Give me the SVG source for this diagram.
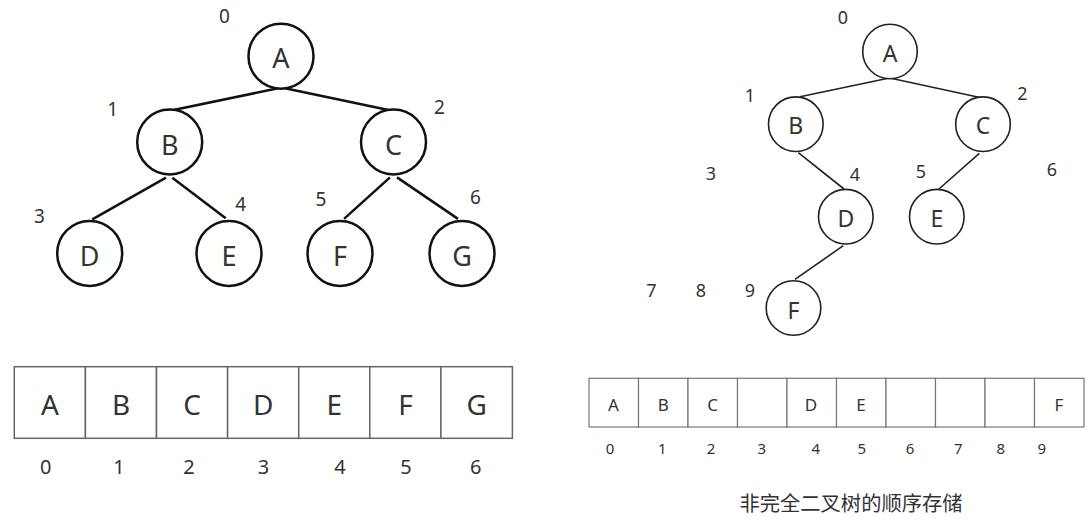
<svg xmlns="http://www.w3.org/2000/svg" width="1090" height="522" viewBox="0 0 1090 522">
<style>
text{font-family:"Noto Sans","Liberation Sans",sans-serif;fill:#333;text-anchor:middle}
.n1{fill:#fff;stroke:#111;stroke-width:2.5}
.n2{fill:#fff;stroke:#222;stroke-width:1.6}
.e1{stroke:#111;stroke-width:2.5}
.e2{stroke:#222;stroke-width:1.6}
.t1{font-size:27px}
.t2{font-size:23px}
.d1{font-size:19px}
.d2{font-size:18px}
.c1{fill:#fff;stroke:#666;stroke-width:1.5}
.c2{fill:#fff;stroke:#777;stroke-width:1.2}
.a1{font-size:28px}
.a2{font-size:17px}
.i1{font-size:20px}
.i2{font-size:15px}
.cap{font-family:"Noto Sans CJK SC","Noto Sans",sans-serif;font-size:20.3px}
</style>
<rect width="1090" height="522" fill="#fff"/>
<g id="connectors">
<line class="e1" x1="278" y1="88.3" x2="173.5" y2="110"/>
<line class="e1" x1="285" y1="88.3" x2="388.5" y2="110"/>
<line class="e1" x1="166" y1="177.7" x2="92.3" y2="219.3"/>
<line class="e1" x1="172.3" y1="177.7" x2="225.7" y2="218.3"/>
<line class="e1" x1="390" y1="177.4" x2="344" y2="218.9"/>
<line class="e1" x1="397" y1="177.4" x2="458" y2="218.9"/>
<line class="e2" x1="887" y1="78.5" x2="800" y2="96.7"/>
<line class="e2" x1="892" y1="78.5" x2="981" y2="97.7"/>
<line class="e2" x1="798.3" y1="152.7" x2="844" y2="189"/>
<line class="e2" x1="979.3" y1="153.3" x2="939" y2="189"/>
<line class="e2" x1="843.3" y1="245.7" x2="795" y2="279.3"/>
</g>
<g id="L-A"><circle class="n1" cx="281" cy="56.2" r="32.5"/><text class="t1" x="281" y="68.3">A</text></g>
<g id="L-B"><circle class="n1" cx="169.7" cy="142" r="32.5"/><text class="t1" x="169.7" y="155">B</text></g>
<g id="L-C"><circle class="n1" cx="393.5" cy="142" r="32.5"/><text class="t1" x="393.5" y="155">C</text></g>
<g id="L-D"><circle class="n1" cx="89.7" cy="253.4" r="32.5"/><text class="t1" x="89.7" y="265.7">D</text></g>
<g id="L-E"><circle class="n1" cx="229" cy="253.4" r="32.5"/><text class="t1" x="229" y="265.7">E</text></g>
<g id="L-F"><circle class="n1" cx="340" cy="253.4" r="32.5"/><text class="t1" x="340" y="265.7">F</text></g>
<g id="L-G"><circle class="n1" cx="462" cy="253.4" r="32.5"/><text class="t1" x="462" y="265.7">G</text></g>
<g id="L-labels">
<text class="d1" x="224.5" y="22.7">0</text>
<text class="d1" x="112.7" y="115.7">1</text>
<text class="d1" x="439.5" y="114.3">2</text>
<text class="d1" x="39.4" y="223">3</text>
<text class="d1" x="240.8" y="210.6">4</text>
<text class="d1" x="321" y="206.3">5</text>
<text class="d1" x="475.4" y="204">6</text>
</g>
<g id="R-A"><circle class="n2" cx="890" cy="51.5" r="27.3"/><text class="t2" x="890" y="61.5">A</text></g>
<g id="R-B"><circle class="n2" cx="795.8" cy="124.2" r="27.3"/><text class="t2" x="795.8" y="134.3">B</text></g>
<g id="R-C"><circle class="n2" cx="983" cy="124.2" r="27.3"/><text class="t2" x="983" y="134.3">C</text></g>
<g id="R-D"><circle class="n2" cx="845.8" cy="216.7" r="27.3"/><text class="t2" x="845.8" y="227.3">D</text></g>
<g id="R-E"><circle class="n2" cx="936.8" cy="216.7" r="27.3"/><text class="t2" x="936.8" y="227.3">E</text></g>
<g id="R-F"><circle class="n2" cx="793.5" cy="308" r="27.3"/><text class="t2" x="793.5" y="318.5">F</text></g>
<g id="R-labels">
<text class="d2" x="843" y="23.8">0</text>
<text class="d2" x="750" y="101.5">1</text>
<text class="d2" x="1022.5" y="100">2</text>
<text class="d2" x="711" y="179.5">3</text>
<text class="d2" x="855" y="181">4</text>
<text class="d2" x="921" y="178.3">5</text>
<text class="d2" x="1052" y="175.5">6</text>
<text class="d2" x="651.5" y="296.5">7</text>
<text class="d2" x="701" y="296.5">8</text>
<text class="d2" x="750" y="296.5">9</text>
</g>
<g id="L-array">
<rect class="c1" x="14.3" y="366.7" width="71.1" height="71.6"/>
<rect class="c1" x="85.4" y="366.7" width="71.1" height="71.6"/>
<rect class="c1" x="156.5" y="366.7" width="71.1" height="71.6"/>
<rect class="c1" x="227.6" y="366.7" width="71.1" height="71.6"/>
<rect class="c1" x="298.7" y="366.7" width="71.1" height="71.6"/>
<rect class="c1" x="369.8" y="366.7" width="71.1" height="71.6"/>
<rect class="c1" x="440.9" y="366.7" width="71.5" height="71.6"/>
<text class="a1" x="50" y="415">A</text>
<text class="a1" x="121" y="415">B</text>
<text class="a1" x="192" y="415">C</text>
<text class="a1" x="263.2" y="415">D</text>
<text class="a1" x="334.3" y="415">E</text>
<text class="a1" x="405.4" y="415">F</text>
<text class="a1" x="476.6" y="415">G</text>
<text class="i1" x="45.7" y="474">0</text>
<text class="i1" x="119" y="474">1</text>
<text class="i1" x="189" y="474">2</text>
<text class="i1" x="263.5" y="474">3</text>
<text class="i1" x="340" y="474">4</text>
<text class="i1" x="406" y="474">5</text>
<text class="i1" x="475.7" y="474">6</text>
</g>
<g id="R-array">
<rect class="c2" x="589" y="378.3" width="49.5" height="48.7"/>
<rect class="c2" x="638.5" y="378.3" width="49.5" height="48.7"/>
<rect class="c2" x="688" y="378.3" width="49.5" height="48.7"/>
<rect class="c2" x="737.5" y="378.3" width="49.5" height="48.7"/>
<rect class="c2" x="787" y="378.3" width="49.5" height="48.7"/>
<rect class="c2" x="836.5" y="378.3" width="49.5" height="48.7"/>
<rect class="c2" x="886" y="378.3" width="49.5" height="48.7"/>
<rect class="c2" x="935.5" y="378.3" width="49.5" height="48.7"/>
<rect class="c2" x="985" y="378.3" width="49.5" height="48.7"/>
<rect class="c2" x="1034.5" y="378.3" width="49.5" height="48.7"/>
<text class="a2" x="613.5" y="411">A</text>
<text class="a2" x="663.3" y="411">B</text>
<text class="a2" x="712.7" y="411">C</text>
<text class="a2" x="811" y="411">D</text>
<text class="a2" x="861" y="411">E</text>
<text class="a2" x="1059" y="411">F</text>
<text class="i2" x="610" y="454">0</text>
<text class="i2" x="662.3" y="454">1</text>
<text class="i2" x="711" y="454">2</text>
<text class="i2" x="761.7" y="454">3</text>
<text class="i2" x="815.7" y="454">4</text>
<text class="i2" x="861.7" y="454">5</text>
<text class="i2" x="910" y="454">6</text>
<text class="i2" x="958.3" y="454">7</text>
<text class="i2" x="1000.7" y="454">8</text>
<text class="i2" x="1041.7" y="454">9</text>
</g>
<text class="cap" x="851" y="511">非完全二叉树的顺序存储</text>
</svg>
